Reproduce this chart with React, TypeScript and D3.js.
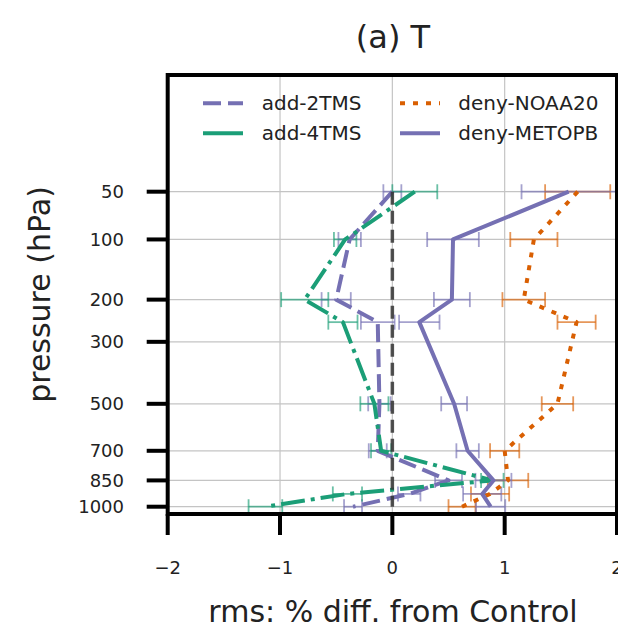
import React from "react";
import * as d3 from "d3";

// ---------- data ----------
const levels = [50, 100, 200, 250, 500, 700, 850, 925, 1000];
const add2TMS = [0.0, -0.38, -0.5, -0.13, -0.115, -0.13, 0.5, 0.15, -0.35];
const add2TMSErr = [0.08, 0.1, 0.13, 0.15, 0.1, 0.08, 0.12, 0.1, 0.08];
const add4TMS = [0.2, -0.42, -0.78, -0.44, -0.16, -0.1, 0.89, -0.4, -1.13];
const add4TMSErr = [0.2, 0.1, 0.21, 0.13, 0.125, 0.09, 0.1, 0.13, 0.15];
const denyNOAA20 = [1.65, 1.26, 1.17, 1.64, 1.47, 1.0, 1.03, 0.87, 0.62];
const denyNOAA20Err = [0.29, 0.21, 0.19, 0.17, 0.14, 0.13, 0.18, 0.17, 0.12];
const denyMETOPB = [1.57, 0.54, 0.53, 0.24, 0.55, 0.67, 0.9, 0.8, 0.875];
const denyMETOPBErr = [0.42, 0.23, 0.16, 0.18, 0.115, 0.1, 0.16, 0.17, 0.13];

const yTicks = [50, 100, 200, 300, 500, 700, 850, 1000];
const xTicks = [-2, -1, 0, 1, 2];
const xDomain = [-2, 2];
const yDomain = [2.43, 1044.5];

const PURPLE = "#7570b3";
const GREEN = "#1b9e77";
const ORANGE = "#d95f02";
const FONT = "DejaVu Sans, sans-serif";

const series = [
  { name: "add-2TMS", values: add2TMS, err: add2TMSErr, color: PURPLE, dash: "18,7" },
  { name: "add-4TMS", values: add4TMS, err: add4TMSErr, color: GREEN, dash: "24,6,4,6" },
  { name: "deny-NOAA20", values: denyNOAA20, err: denyNOAA20Err, color: ORANGE, dash: "5,8" },
  { name: "deny-METOPB", values: denyMETOPB, err: denyMETOPBErr, color: PURPLE, dash: null },
];

const fmt = (v: number) => (v < 0 ? "\u2212" + Math.abs(v) : String(v));

export default function App() {
  const W = 618, H = 632;
  const L = 167.7, R = 617, T = 75, B = 514;
  const x = d3.scaleLinear().domain(xDomain).range([L, R]);
  const y = d3.scalePow().exponent(1 / 3).domain(yDomain).range([T, B]);
  const line = (vals: number[]) =>
    d3.line<number>().x((v) => x(v)).y((_, i) => y(levels[i]))(vals) || "";

  const legend = [
    { s: series[0], lx: 203, tx: 261.7, ly: 103.3 },
    { s: series[1], lx: 203, tx: 261.7, ly: 133.3 },
    { s: series[2], lx: 400, tx: 458.3, ly: 103.3 },
    { s: series[3], lx: 400, tx: 458.3, ly: 133.3 },
  ];

  return (
    <svg width={W} height={H} style={{ position: "absolute", left: 0, top: 0, background: "#fff" }} fontFamily={FONT}>
      <defs>
        <clipPath id="plotclip">
          <rect x={L} y={T} width={R - L} height={B - T} />
        </clipPath>
      </defs>
      <rect x={0} y={0} width={W} height={H} fill="#fff" />
      {/* grid */}
      <g stroke="#c4c4c4" strokeWidth={1.2}>
        {xTicks.map((t) => (
          <line key={"gx" + t} x1={x(t)} x2={x(t)} y1={T} y2={B} />
        ))}
        {yTicks.map((t) => (
          <line key={"gy" + t} x1={L} x2={R} y1={y(t)} y2={y(t)} />
        ))}
      </g>
      <g clipPath="url(#plotclip)">
        {/* error bars */}
        {series.map((s) =>
          s.values.map((v, i) => {
            const yy = y(levels[i]);
            const x0 = x(v - s.err[i]);
            const x1 = x(v + s.err[i]);
            return (
              <g key={s.name + "e" + i} stroke={s.color} strokeOpacity={0.65} strokeWidth={1.8}>
                <line x1={x0} x2={x1} y1={yy} y2={yy} />
                <line x1={x0} x2={x0} y1={yy - 7.5} y2={yy + 7.5} />
                <line x1={x1} x2={x1} y1={yy - 7.5} y2={yy + 7.5} />
              </g>
            );
          })
        )}
        {/* lines */}
        {series.map((s) => (
          <path
            key={s.name}
            d={line(s.values)}
            fill="none"
            stroke={s.color}
            strokeWidth={4}
            strokeDasharray={s.dash || undefined}
            strokeLinejoin="round"
          />
        ))}
        {/* zero line */}
        <line
          x1={x(0)}
          x2={x(0)}
          y1={y(levels[0])}
          y2={y(levels[levels.length - 1])}
          stroke="#333"
          strokeOpacity={0.85}
          strokeWidth={3.5}
          strokeDasharray="13,6"
        />
      </g>
      {/* frame */}
      <rect x={L} y={T} width={R - L} height={B - T} fill="none" stroke="#000" strokeWidth={4} />
      {/* y ticks */}
      {yTicks.map((t) => (
        <g key={"yt" + t}>
          <line x1={L - 21} x2={L} y1={y(t)} y2={y(t)} stroke="#000" strokeWidth={4} />
          <text x={124} y={y(t) + 6.3} textAnchor="end" fontSize={18} fill="#222">
            {t}
          </text>
        </g>
      ))}
      {/* x ticks */}
      {xTicks.map((t) => (
        <g key={"xt" + t}>
          <line x1={x(t)} x2={x(t)} y1={B} y2={B + 21} stroke="#000" strokeWidth={4} />
          <text x={x(t)} y={574} textAnchor="middle" fontSize={18} fill="#222">
            {fmt(t)}
          </text>
        </g>
      ))}
      {/* legend */}
      {legend.map((l) => (
        <g key={"lg" + l.s.name}>
          <line
            x1={l.lx}
            x2={l.lx + 40}
            y1={l.ly}
            y2={l.ly}
            stroke={l.s.color}
            strokeWidth={4}
            strokeDasharray={l.s.name === "add-4TMS" ? undefined : l.s.dash || undefined}
          />
          <text x={l.tx} y={l.ly + 6.7} fontSize={20} fill="#222">
            {l.s.name}
          </text>
        </g>
      ))}
      {/* titles */}
      <text x={393} y={48} textAnchor="middle" fontSize={32} fill="#222">
        (a) T
      </text>
      <text transform="translate(50,294.5) rotate(-90)" textAnchor="middle" fontSize={30} fill="#222">
        pressure (hPa)
      </text>
      <text x={393} y={622} textAnchor="middle" fontSize={30} fill="#222">
        rms: % diff. from Control
      </text>
    </svg>
  );
}
